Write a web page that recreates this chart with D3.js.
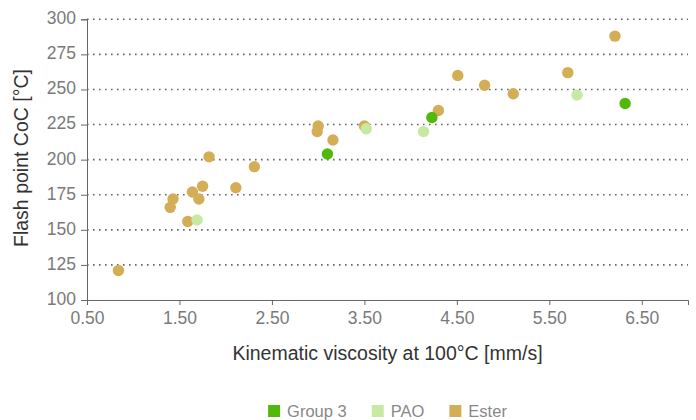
<!DOCTYPE html>
<html>
<head>
<meta charset="utf-8">
<script src="https://cdn.jsdelivr.net/npm/d3@7"></script>
<style>
  body { margin: 0; background: #fff; }
  svg { font-family: "Liberation Sans", Arial, sans-serif; }
</style>
</head>
<body>
<div id="chart"></div>
<script>
// values
const seriesNames = ["Group 3", "PAO", "Ester"];
const seriesColors = ["#52b80a", "#c8e9a2", "#d4ae56"];

const group3X = [3.10, 4.23, 6.32];
const group3Y = [204, 230, 240];

const paoX = [1.69, 3.52, 4.14, 5.80];
const paoY = [157, 222, 220, 246];

const esterX = [0.84, 1.40, 1.43, 1.59, 1.64, 1.71, 1.75, 1.82, 2.11, 2.31,
                2.99, 3.00, 3.16, 3.50, 4.30, 4.51, 4.80, 5.11, 5.70, 6.21];
const esterY = [121, 166, 172, 156, 177, 172, 181, 202, 180, 195,
                220, 224, 214, 224, 235, 260, 253, 247, 262, 288];

const xTicks = [0.5, 1.5, 2.5, 3.5, 4.5, 5.5, 6.5];
const yTicks = [100, 125, 150, 175, 200, 225, 250, 275, 300];

function init() {
    const width = 696;
    const height = 420;
    const margin = { top: 19.3, right: 8, bottom: 120, left: 87 };

    const xScale = d3.scaleLinear().domain([0.5, 7]).range([margin.left, width - margin.right]);
    const yScale = d3.scaleLinear().domain([100, 300]).range([height - margin.bottom, margin.top]);
    const color = d3.scaleOrdinal().domain(seriesNames).range(seriesColors);

    const svg = d3.select("#chart")
        .append("svg")
        .attr("width", width)
        .attr("height", height);

    // dotted gridlines
    svg.append("g")
        .selectAll("line")
        .data(yTicks.slice(1))
        .enter()
        .append("line")
        .attr("x1", margin.left)
        .attr("x2", width - margin.right)
        .attr("y1", d => yScale(d))
        .attr("y2", d => yScale(d))
        .attr("stroke", "#666")
        .attr("stroke-width", 1.6)
        .attr("stroke-dasharray", "1.6,4.4");

    // axes
    const xAxis = svg.append("g")
        .attr("transform", `translate(0,${yScale(100)})`)
        .call(d3.axisBottom(xScale).tickValues(xTicks).tickFormat(d3.format(".2f")).tickSize(5).tickPadding(7));

    const yAxis = svg.append("g")
        .attr("transform", `translate(${margin.left},0)`)
        .call(d3.axisLeft(yScale).tickValues(yTicks).tickSize(6).tickPadding(5));

    [xAxis, yAxis].forEach(a => {
        a.select(".domain").attr("stroke", "#666");
        a.selectAll(".tick line").attr("stroke", "#666");
        a.selectAll(".tick text")
            .attr("fill", "#7a7a7a")
            .style("font-size", "17.5px");
    });
    yAxis.selectAll(".tick text").attr("dy", "0.25em");

    // axis titles
    svg.append("text")
        .attr("text-anchor", "middle")
        .attr("x", (margin.left + width - margin.right) / 2)
        .attr("y", 360)
        .attr("fill", "#333")
        .style("font-size", "19.5px")
        .text("Kinematic viscosity at 100°C [mm/s]");

    svg.append("text")
        .attr("text-anchor", "middle")
        .attr("transform", "rotate(-90)")
        .attr("x", -158)
        .attr("y", 28)
        .attr("fill", "#333")
        .style("font-size", "19.5px")
        .text("Flash point CoC [°C]");

    // points: ester first, then PAO and Group 3 on top
    const points = [];
    esterX.forEach((x, i) => points.push({ s: "Ester", x: x, y: esterY[i] }));
    paoX.forEach((x, i) => points.push({ s: "PAO", x: x, y: paoY[i] }));
    group3X.forEach((x, i) => points.push({ s: "Group 3", x: x, y: group3Y[i] }));

    svg.append("g")
        .selectAll("circle")
        .data(points)
        .enter()
        .append("circle")
        .attr("cx", d => xScale(d.x))
        .attr("cy", d => yScale(d.y))
        .attr("r", 5.7)
        .attr("fill", d => color(d.s));

    // legend, centred under the plot
    const legend = svg.append("g");
    let lx = 0;
    seriesNames.forEach(name => {
        legend.append("rect")
            .attr("x", lx)
            .attr("y", 405)
            .attr("width", 12)
            .attr("height", 12)
            .attr("fill", color(name));
        const t = legend.append("text")
            .attr("x", lx + 19)
            .attr("y", 417)
            .attr("fill", "#888")
            .style("font-size", "16.5px")
            .text(name);
        lx += 19 + t.node().getComputedTextLength() + 25;
    });
    const lw = lx - 25;
    legend.attr("transform", `translate(${(margin.left + width - margin.right) / 2 - lw / 2},0)`);
}

window.onload = init;
</script>
</body>
</html>
